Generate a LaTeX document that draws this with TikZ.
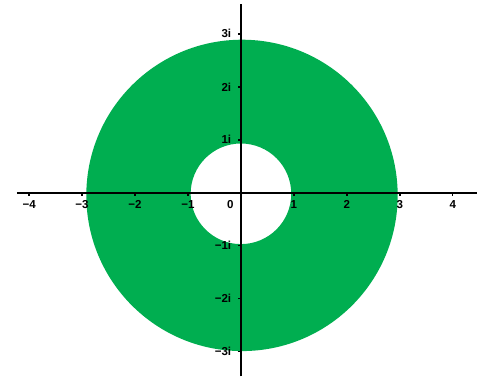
\documentclass[tikz,border=0pt]{standalone}
\usepackage{fontspec}
\setmainfont{Liberation Sans}
\definecolor{anillo}{RGB}{0,174,80}
\begin{document}
\begin{tikzpicture}[font=\fontsize{6.2}{7}\selectfont\bfseries]
    \useasboundingbox (-4.55,-3.47) rectangle (4.59,3.64);
    \fill[anillo,even odd rule] (0.02,-0.05) circle (2.94) (0,-0.02) circle (0.95);
    \coordinate (xizq) at (-4.23,0);
    \coordinate (xder) at (4.45,0);
    \coordinate (yinf) at (0,-3.47);
    \coordinate (ysup) at (0,3.57);
    \draw[line width=1.1pt] (xizq) -- (xder);
    \draw[line width=1.1pt] (yinf) -- (ysup);
    \foreach \n/\t in {-4/−4,-3/−3,-2/−2,-1/−1,1/1,2/2,3/3,4/4}{
      \draw[line width=0.8pt] (\n,0) -- (\n,-0.06);
      \node (x\n) at (\n,-0.22) {\t};
    }
    \foreach \n/\t in {-3/−3,-2/−2,-1/−1,1/1,2/2,3/3}{
      \draw[line width=0.8pt] (0,\n) -- (-0.06,\n);
      \node[anchor=east] (y\n) at (-0.06,\n) {\t i};
    }
    \node (cero) at (-0.2,-0.22) {0};
  \end{tikzpicture}
\end{document}
